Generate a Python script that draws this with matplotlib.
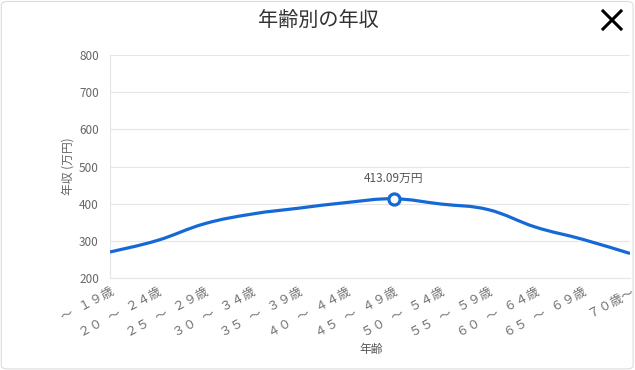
import numpy as np
import matplotlib
matplotlib.use('Agg')
import matplotlib.pyplot as plt
from matplotlib.path import Path
from matplotlib.patches import PathPatch, FancyBboxPatch
from matplotlib.lines import Line2D

plt.rcParams['font.family'] = ['Noto Sans CJK JP', 'DejaVu Sans']

# data
ages = ['～   １９歳', '２０   ～   ２４歳', '２５   ～   ２９歳', '３０   ～   ３４歳', '３５   ～   ３９歳',
        '４０   ～   ４４歳', '４５   ～   ４９歳', '５０   ～   ５４歳', '５５   ～   ５９歳',
        '６０   ～   ６４歳', '６５   ～   ６９歳', '７０歳～']
income = [270, 301, 346, 372, 388, 403, 413.09, 399, 384, 337, 304, 266]
peak_idx = 6
y_ticks = [200, 300, 400, 500, 600, 700, 800]

blue = '#1569d6'
gray = '#666666'

fig = plt.figure(figsize=(6.35, 3.7), dpi=100)
ax = fig.add_axes([110/635, 1-278/370, 520/635, 223/370])

# smooth line like chart.js (bezier through the points)
x = np.arange(len(income), dtype=float)
y = np.array(income, dtype=float)
t = 0.2
verts = [(x[0], y[0])]
codes = [Path.MOVETO]
for i in range(len(x)-1):
    p0 = max(i-1, 0)
    p3 = min(i+2, len(x)-1)
    c1 = (x[i] + t*(x[i+1]-x[p0]), y[i] + t*(y[i+1]-y[p0]))
    c2 = (x[i+1] - t*(x[p3]-x[i]), y[i+1] - t*(y[p3]-y[i]))
    verts += [c1, c2, (x[i+1], y[i+1])]
    codes += [Path.CURVE4]*3
ax.add_patch(PathPatch(Path(verts, codes), facecolor='none', edgecolor=blue, lw=2.3, zorder=3))

ax.plot(x[peak_idx], y[peak_idx], 'o', ms=8, mfc='white', mec=blue, mew=2.3, zorder=4)
ax.annotate('%.2f万円' % income[peak_idx], (x[peak_idx], y[peak_idx]), xytext=(0, 10),
            textcoords='offset points', ha='center', va='bottom', fontsize=8.5, color='#555555')

ax.set_xticks(x)
ax.set_xticklabels(ages, rotation=28, ha='right', va='top', rotation_mode='anchor',
                   fontsize=9, color='#707070')
ax.tick_params(axis='x', length=0, pad=5)

ax.set_xlim(0, len(income)-1)
ax.set_ylim(200, 800)
ax.set_yticks(y_ticks)
ax.grid(axis='y', color='#e6e6e6', lw=0.8)
ax.set_axisbelow(True)
for s in ['top', 'right']:
    ax.spines[s].set_visible(False)
ax.spines['left'].set_color('#e6e6e6')
ax.spines['bottom'].set_color('#e6e6e6')
ax.tick_params(axis='y', length=0, pad=8, labelsize=8.5, labelcolor=gray)

ax.set_ylabel('年収 (万円)', fontsize=8.5, color=gray, labelpad=3)
fig.text(371/635, 1-350/370, '年齢', ha='center', va='center', fontsize=8.5, color='#555555')

fig.text(318/635, 1-21/370, '年齢別の年収', ha='center', va='center', fontsize=14.5, color='#333333')

# close button
cx, cy, h = 612, 20, 9
for dx in (-1, 1):
    fig.add_artist(Line2D([(cx-h)/635, (cx+h)/635], [1-(cy-dx*h)/370, 1-(cy+dx*h)/370],
                          transform=fig.transFigure, color='black', lw=2.2))

fig.patches.append(FancyBboxPatch((0.002, 0.003), 0.995, 0.993, boxstyle='round,pad=0,rounding_size=0.01',
                                  transform=fig.transFigure, facecolor='none', edgecolor='#dddddd', lw=0.8))

fig.savefig('out.png', dpi=100)
